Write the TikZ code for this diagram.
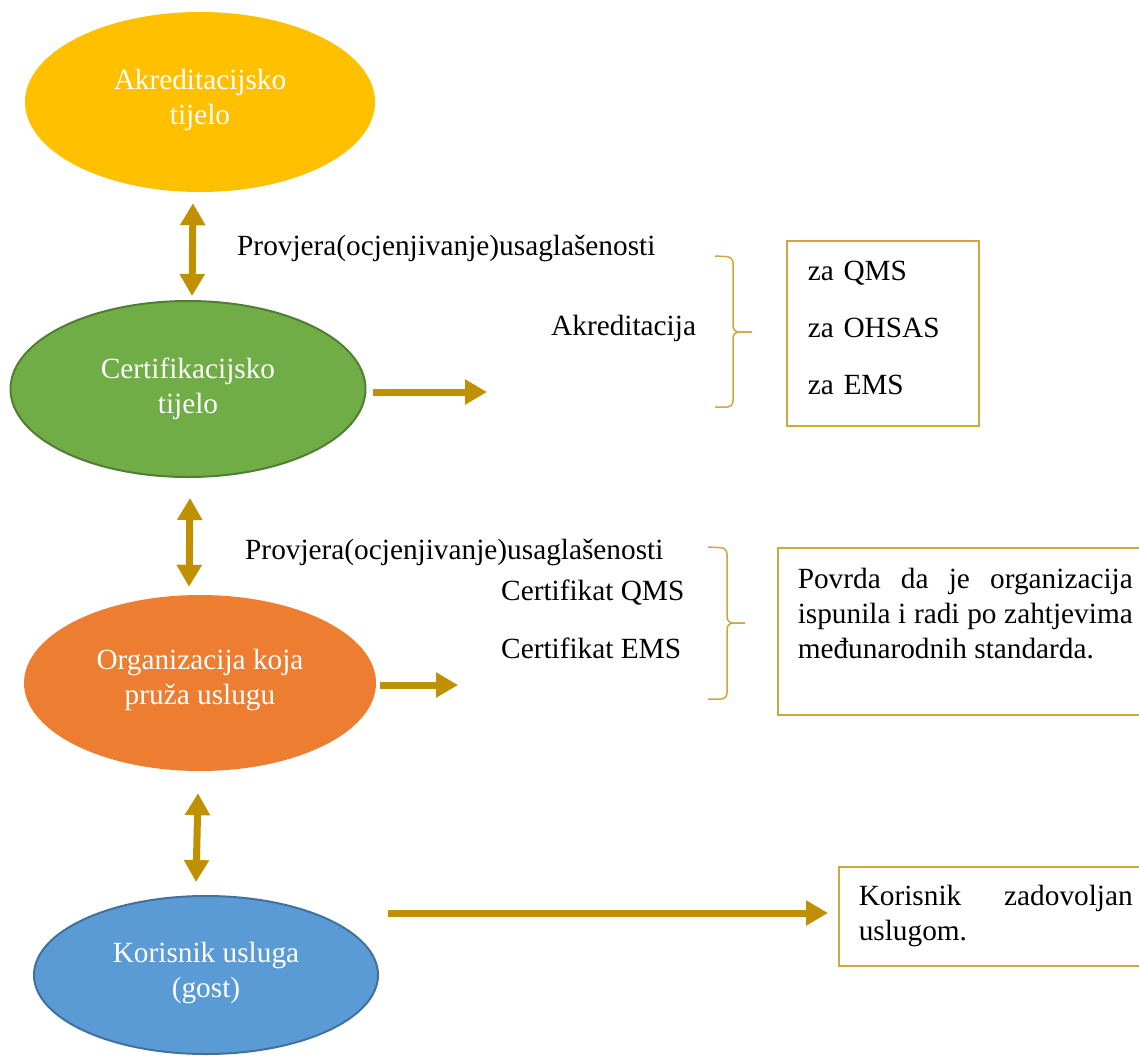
\documentclass[tikz,border=0pt]{standalone}
\usepackage{fontspec}
\setmainfont{Liberation Serif}
\usetikzlibrary{arrows.meta,shapes.geometric}
\definecolor{zuta}{HTML}{FFC000}
\definecolor{zelena}{HTML}{70AD47}
\definecolor{zelenarub}{HTML}{507E32}
\definecolor{narandz}{HTML}{ED7D31}
\definecolor{plava}{HTML}{5B9BD5}
\definecolor{plavarub}{HTML}{41719C}
\definecolor{zlatna}{HTML}{BF9000}
\definecolor{okvirboja}{RGB}{204,168,62}
\hyphenpenalty=10000
\tolerance=9999
\begin{document}
\begin{tikzpicture}[x=1pt,y=-1pt,
  tekst/.style={font=\fontsize{29.3}{35}\selectfont, inner sep=0pt},
  tijelo/.style={tekst, ellipse, text=white, align=center},
  okvir/.style={tekst, draw=okvirboja, line width=1.5pt, anchor=north west, inner ysep=0pt},
  strelica/.style={draw=zlatna, line width=7pt, -{Triangle[length=22pt,width=24pt]}},
  dvostrana/.style={draw=zlatna, line width=7pt, {Triangle[length=22pt,width=24pt]}-{Triangle[length=22pt,width=24pt]}},
  zagrada/.style={draw=okvirboja, line width=1.5pt, rounded corners=6pt}]
\useasboundingbox (0,0) rectangle (1139,1055);
\clip (0,0) rectangle (1139,1055);
\node[tijelo, fill=zuta, minimum width=350pt, minimum height=180pt] (akr) at (200,102){Akreditacijsko\\tijelo\\[-25pt]\mbox{}};
\node[tijelo, fill=zelena, draw=zelenarub, line width=2pt, minimum width=355pt, minimum height=176pt] (cert) at (188,389){Certifikacijsko\\tijelo};
\node[tijelo, fill=narandz, minimum width=352pt, minimum height=176pt] (org) at (200,683){Organizacija koja\\pruža uslugu\\[-23pt]\mbox{}};
\node[tijelo, fill=plava, draw=plavarub, line width=2pt, minimum width=344pt, minimum height=158pt] (kor) at (206,975){Korisnik usluga\\(gost)\\[-25pt]\mbox{}};
\node[tekst, anchor=west] (prov1) at (237,248){Provjera(ocjenjivanje)usaglašenosti};
\node[tekst, anchor=west] (akred) at (551,328){Akreditacija};
\node[tekst, anchor=west] (prov2) at (245,552){Provjera(ocjenjivanje)usaglašenosti};
\node[tekst, anchor=west] (certq) at (501,593){Certifikat QMS};
\node[tekst, anchor=west] (certe) at (501,648){Certifikat EMS};
\node[okvir, text width=150pt, inner xsep=21pt, minimum height=185pt, align=left] (standardi) at (786,240){za QMS\\[22pt]za OHSAS\\[22pt]za EMS\\[-25pt]\mbox{}};
\node[okvir, text width=335pt, inner xsep=20pt, minimum height=167pt, align=justify] (potvrda) at (777,547){Povrda da je organizacija ispunila i radi po zahtjevima međunarodnih standarda.\\ \mbox{}};
\node[okvir, text width=274pt, inner xsep=20pt, minimum height=99pt, align=justify] (zad) at (838,866){Korisnik zadovoljan uslugom.};
\coordinate (kraj1) at (487,392);
\coordinate (kraj2) at (458,685);
\coordinate (poc3) at (388,913);
\draw[dvostrana] ([xshift=-7pt,yshift=-11pt]akr.south) -- ([xshift=4pt,yshift=4pt]cert.north);
\draw[dvostrana] ([xshift=2pt,yshift=-20pt]cert.south) -- ([xshift=-11pt,yshift=8pt]org.north);
\draw[dvostrana] ([xshift=-2pt,yshift=-22pt]org.south) -- ([xshift=-10pt,yshift=13pt]kor.north);
\draw[strelica] (cert.east |- kraj1) ++(6,0) -- (kraj1);
\draw[strelica] (org.east |- kraj2) ++(4,0) -- (kraj2);
\draw[strelica, shorten >=10pt] (poc3) -- (poc3 -| zad.west);
\draw[zagrada] (715,256) -- (733,257) -- (733,332) -- (752,332);
\draw[zagrada] (752,332) -- (733,332) -- (733,407) -- (715,407);
\draw[zagrada] (708,547) -- (727,548) -- (727,623) -- (745,623);
\draw[zagrada] (745,623) -- (727,623) -- (727,699) -- (708,699);
\end{tikzpicture}
\end{document}
